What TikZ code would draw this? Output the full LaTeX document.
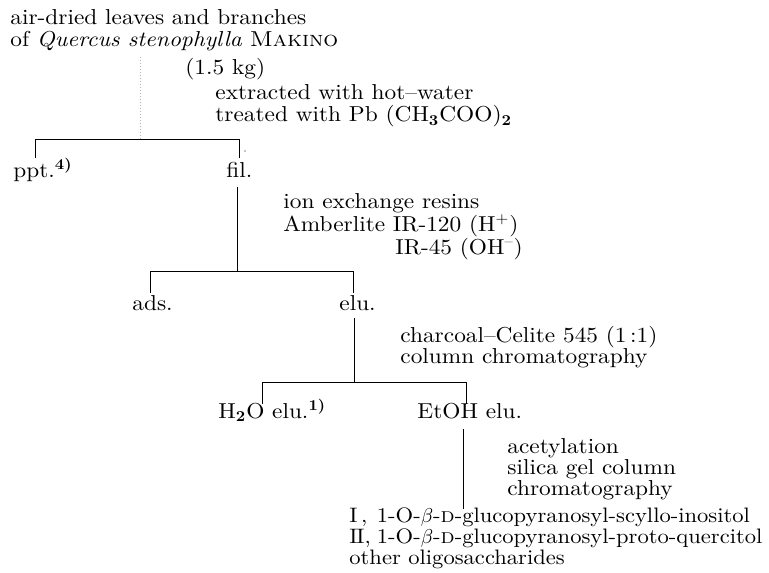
\documentclass[tikz,border=0pt]{standalone}
\usepackage{fontspec}
\setmainfont{lmroman10-regular.otf}[FakeStretch=1.08, ItalicFont=lmroman10-italic.otf, BoldFont=lmroman10-bold.otf, SmallCapsFont=lmromancaps10-regular.otf]
\newcommand{\numlab}[1]{\makebox[10pt][l]{#1}}
\begin{document}
\begin{tikzpicture}[x=0.5pt,y=-0.5pt,
  txt/.style={anchor=base west, inner sep=0pt, font=\fontsize{10.8}{11}\selectfont},
  prod/.style={txt, font=\fontsize{10.45}{11}\selectfont},
  tree/.style={line width=0.5pt, line cap=rect},
  feed/.style={gray!60, line width=0.5pt, densely dotted}]
\useasboundingbox (0,0) rectangle (769,572);
% texts
\node[txt] (src1) at (10,25) {air-dried leaves and branches};
\node[txt] (src2) at (10,47) {of \textit{Quercus stenophylla} \textsc{Makino}};
\node[txt] (kg)  at (185,75) {(1.5 kg)};
\node[txt] (ex1) at (215,100) {extracted with hot--water};
\node[txt] (ex2) at (215,122) {treated with Pb (CH\textsubscript{\textbf{3}}COO)\textsubscript{\textbf{2}}};
\node[txt] (ppt) at (13,177) {ppt.\textsuperscript{\textbf{4)}}};
\node[txt] (fil) at (226,177) {fil.};
\node[txt] (ion1) at (283,208) {ion exchange resins};
\node[txt] (ion2) at (283,231) {Amberlite IR-120 (H\textsuperscript{+})};
\node[txt] (ion3) at (395,254) {IR-45 (OH\textsuperscript{--})};
\node[txt] (ads) at (132,310) {ads.};
\node[txt] (elu) at (339,310) {elu.};
\node[txt] (ch1) at (400,342) {charcoal--Celite 545 (1\,:1)};
\node[txt] (ch2) at (400,363) {column chromatography};
\node[txt] (h2o) at (218,418) {H\textsubscript{\textbf{2}}O elu.\textsuperscript{\textbf{1)}}};
\node[txt] (etoh) at (417,418) {EtOH elu.};
\node[txt] (ac1) at (507,453) {acetylation};
\node[txt] (ac2) at (507,474) {silica gel column};
\node[txt] (ac3) at (507,495) {chromatography};
\node[prod] (p1) at (349,522) {\numlab{I\,,} 1-O-$\beta$-\textsc{d}-glucopyranosyl-scyllo-inositol};
\node[prod] (p2) at (349,543) {\numlab{I\kern-0.6ptI,} 1-O-$\beta$-\textsc{d}-glucopyranosyl-proto-quercitol};
\node[prod] (p3) at (349,564) {other oligosaccharides};
% tree level 1
\coordinate (s0) at (140,57);
\coordinate (j1) at (140,140);
\coordinate (b1L) at (35,140);
\coordinate (b1R) at (239,140);
\coordinate (t1L) at (35,158);
\coordinate (t1R) at (239,158);
\draw[feed] (s0) -- (j1);
\draw[tree] (t1L) -- (b1L) -- (b1R) -- (t1R);
\fill (245,151) circle (0.7);
% level 2
\coordinate (f0) at (237,187);
\coordinate (j2) at (237,271);
\coordinate (b2L) at (150,271);
\coordinate (b2R) at (353,271);
\coordinate (t2L) at (150,292);
\coordinate (t2R) at (353,292);
\draw[tree] (f0) -- (j2);
\draw[tree] (t2L) -- (b2L) -- (b2R) -- (t2R);
% level 3
\coordinate (e0) at (354,318);
\coordinate (j3) at (354,382);
\coordinate (b3L) at (262,382);
\coordinate (b3R) at (466,382);
\coordinate (t3L) at (262,403);
\coordinate (t3R) at (466,403);
\draw[tree] (e0) -- (j3);
\draw[tree] (t3L) -- (b3L) -- (b3R) -- (t3R);
% level 4
\coordinate (g0) at (463,429);
\coordinate (g1) at (463,508);
\draw[tree] (g0) -- (g1);
\end{tikzpicture}
\end{document}
